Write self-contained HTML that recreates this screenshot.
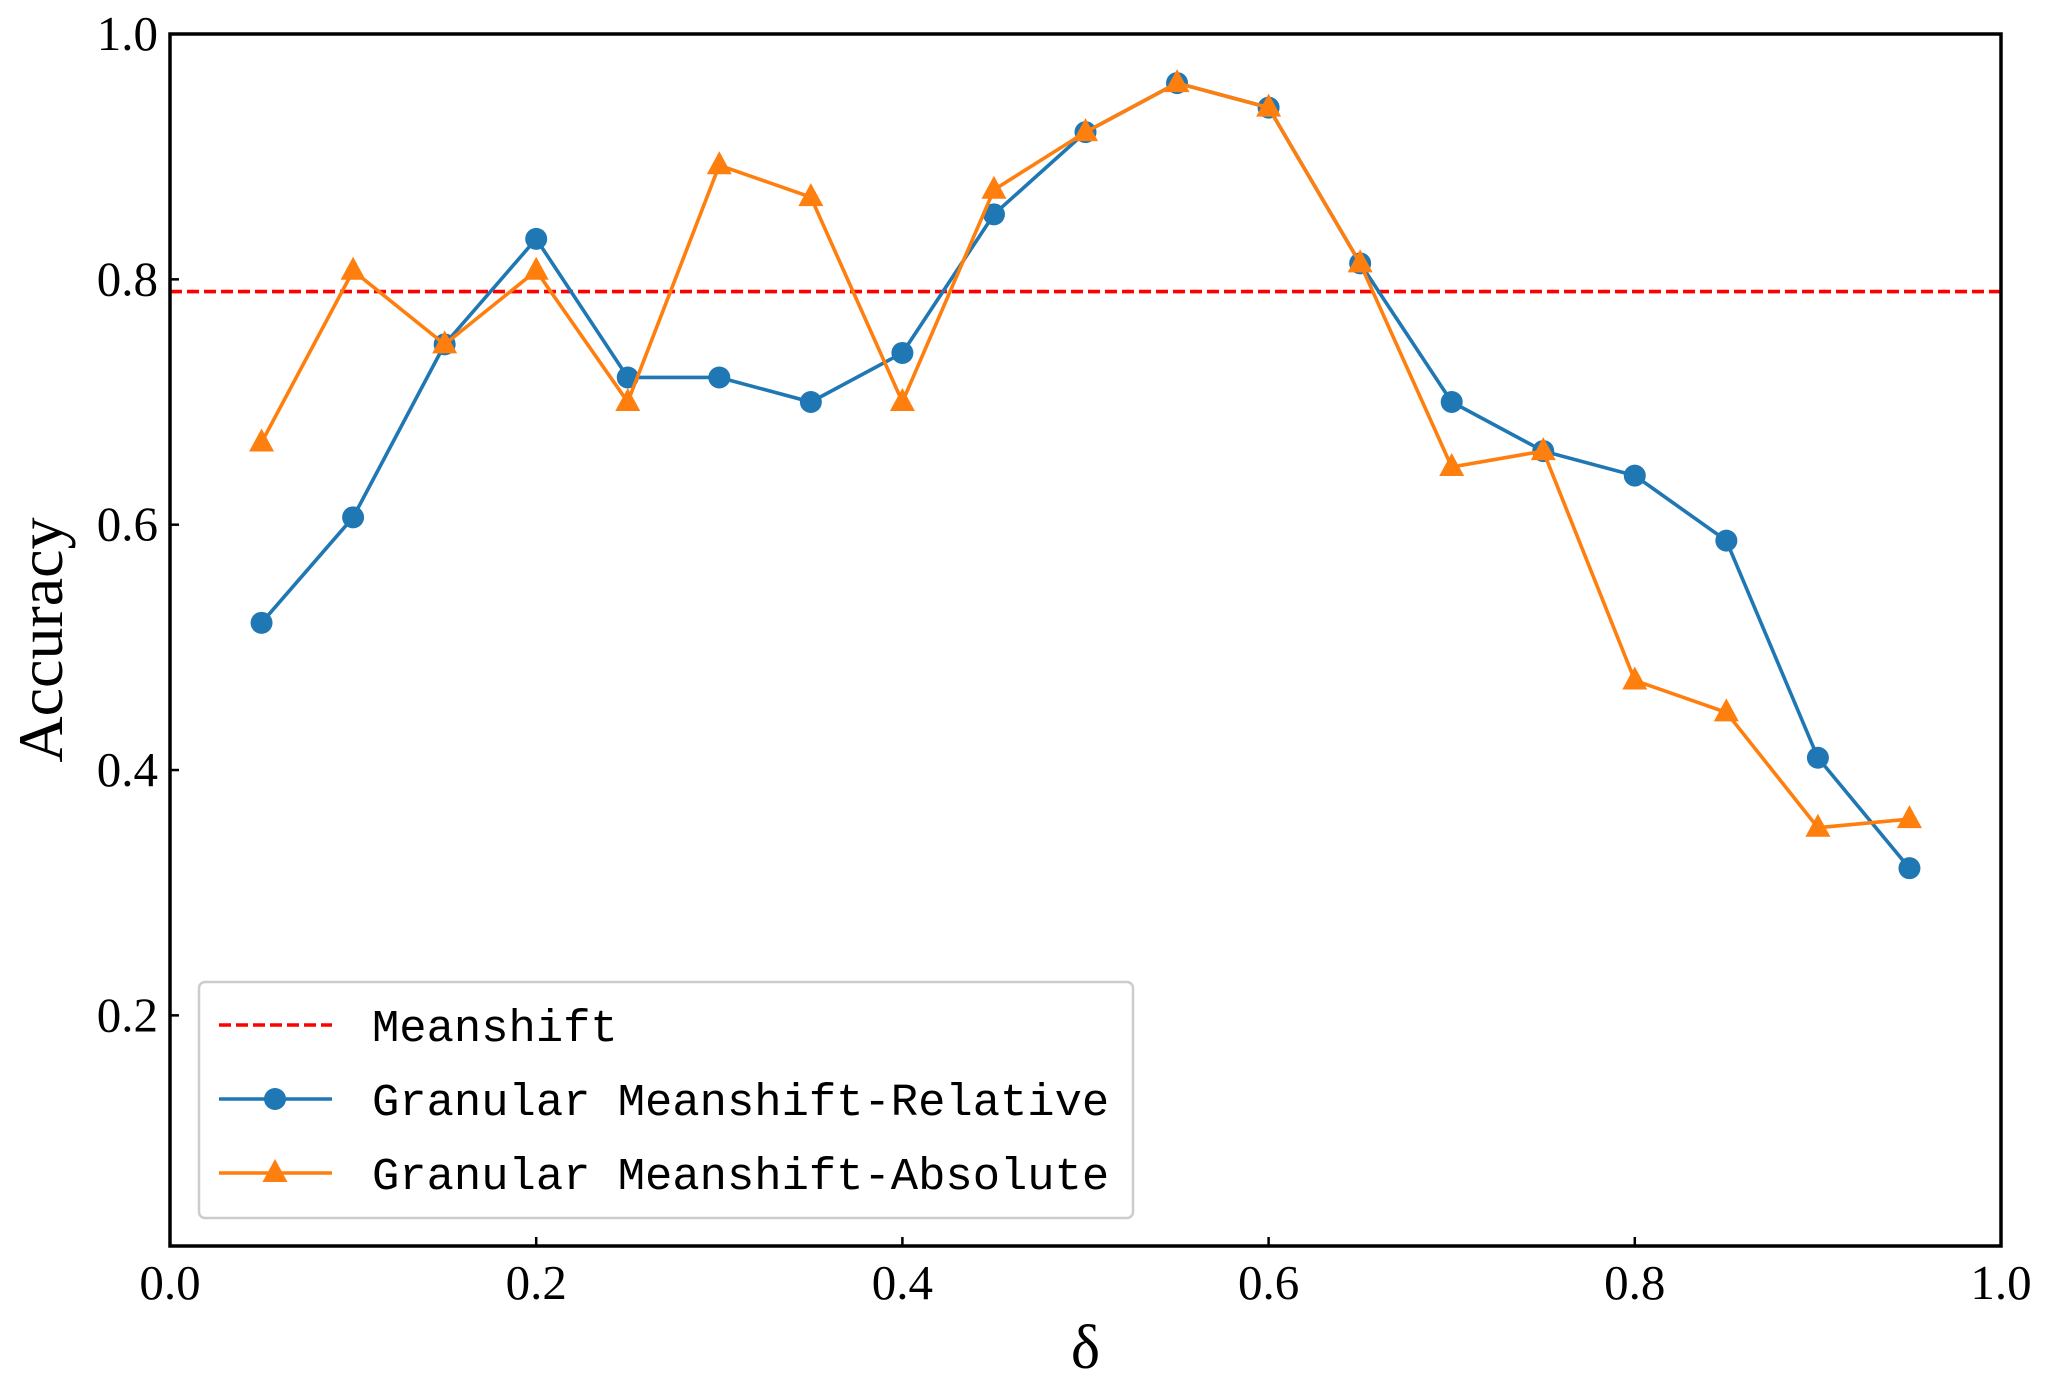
<!DOCTYPE html>
<html><head><meta charset="utf-8"><style>body{margin:0;background:#fff}svg{display:block}</style></head>
<body>
<svg id="chart" width="2049" height="1389" xmlns="http://www.w3.org/2000/svg"></svg>
<script>
const xValues=[0.05,0.1,0.15,0.2,0.25,0.3,0.35,0.4,0.45,0.5,0.55,0.6,0.65,0.7,0.75,0.8,0.85,0.9,0.95];
const relative=[0.52,0.606,0.747,0.833,0.72,0.72,0.70,0.74,0.853,0.92,0.96,0.94,0.813,0.70,0.66,0.64,0.587,0.41,0.32];
const absolute=[0.667,0.807,0.747,0.807,0.70,0.893,0.867,0.70,0.873,0.92,0.96,0.94,0.813,0.647,0.66,0.473,0.447,0.353,0.36];
const meanshift=0.79;
const xTicks=[0,0.2,0.4,0.6,0.8,1.0];
const xTickLabels=["0.0","0.2","0.4","0.6","0.8","1.0"];
const yTicks=[0.2,0.4,0.6,0.8,1.0];
const yTickLabels=["0.2","0.4","0.6","0.8","1.0"];

const L=170,R=2001,T=34,B=1246,yMin=0.012,yMax=1.0;
const sx=v=>L+(v-0)/(1-0)*(R-L);
const sy=v=>B-(v-yMin)/(yMax-yMin)*(B-T);
const svg=document.getElementById('chart');
const NS='http://www.w3.org/2000/svg';
function mk(tag,attrs,parent){const e=document.createElementNS(NS,tag);for(const k in attrs)e.setAttribute(k,attrs[k]);(parent||svg).appendChild(e);return e;}
const serif='"Liberation Serif", "DejaVu Serif", serif';

let ms=mk('line',{x1:L,x2:R,y1:sy(meanshift),y2:sy(meanshift),stroke:'#ff0000','stroke-width':3.6,'stroke-dasharray':'12 5'});



function series(vals,color,name,marker){
  const g=mk('g',{});
  
  
  mk('polyline',{points:vals.map((v,i)=>sx(xValues[i])+','+sy(v)).join(' '),fill:'none',stroke:color,'stroke-width':3.6},g);
  vals.forEach((v,i)=>{
    const x=sx(xValues[i]),y=sy(v);let m;
    if(marker==='circle')m=mk('circle',{cx:x,cy:y,r:11,fill:color},g);
    else m=mk('polygon',{points:`${x},${y-14} ${x-12.5},${y+9} ${x+12.5},${y+9}`,fill:color},g);
    
    
  });
}
series(relative,'#1f77b4','relative','circle');
series(absolute,'#ff7f0e','absolute','triangle');

let fr=mk('rect',{x:L,y:T,width:R-L,height:B-T,fill:'none',stroke:'#000','stroke-width':3.5});



xTicks.forEach((v,i)=>{
  mk('line',{x1:sx(v),x2:sx(v),y1:B,y2:B-9,stroke:'#000','stroke-width':2.5});
  const t=mk('text',{x:sx(v),y:B+53,'text-anchor':'middle','font-family':serif,'font-size':49});
  t.textContent=xTickLabels[i];
  
  
});
yTicks.forEach((v,i)=>{
  mk('line',{x1:L,x2:L+9,y1:sy(v),y2:sy(v),stroke:'#000','stroke-width':2.5});
  const t=mk('text',{x:L-12,y:sy(v)+16,'text-anchor':'end','font-family':serif,'font-size':49});
  t.textContent=yTickLabels[i];
  
  
});
let xl=mk('text',{x:(L+R)/2,y:1368,'text-anchor':'middle','font-family':serif,'font-size':62});
xl.textContent='δ';


let yl=mk('text',{x:0,y:0,'text-anchor':'middle','font-family':serif,'font-size':64,transform:`translate(62,${(T+B)/2}) rotate(-90)`});
yl.textContent='Accuracy';



const lg=mk('g',{});


mk('rect',{x:199,y:982,width:934,height:236,rx:6,fill:'#fff',stroke:'#ccc','stroke-width':2.5},lg);
const entries=[['Meanshift','#ff0000','dash'],['Granular Meanshift-Relative','#1f77b4','circle'],['Granular Meanshift-Absolute','#ff7f0e','triangle']];
const ys=[1025,1099,1173];
entries.forEach((e,i)=>{
  const g=mk('g',{},lg);
  
  
  const y=ys[i];
  mk('line',{x1:219,x2:332,y1:y,y2:y,stroke:e[1],'stroke-width':3.6,'stroke-dasharray':e[2]==='dash'?'12 5':'none'},g);
  if(e[2]==='circle')mk('circle',{cx:275,cy:y,r:11,fill:e[1]},g);
  if(e[2]==='triangle')mk('polygon',{points:`275,${y-14} 262.5,${y+9} 287.5,${y+9}`,fill:e[1]},g);
  const t=mk('text',{x:372,y:y+16,'font-family':'"Liberation Mono", monospace','font-size':45.5},g);
  t.textContent=e[0];
});
</script>
</body></html>
